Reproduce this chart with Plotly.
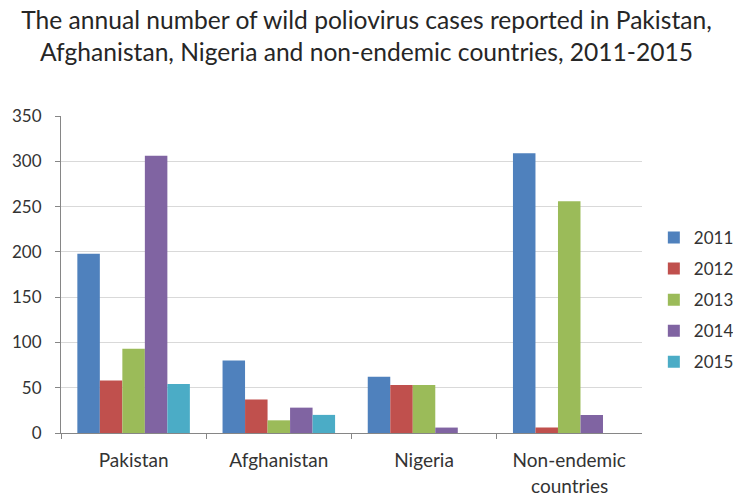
import plotly.graph_objects as go

categories = ["Pakistan", "Afghanistan", "Nigeria", "Non-endemic countries"]
tick_labels = ["Pakistan", "Afghanistan", "Nigeria", "Non-endemic"]
second_line = "countries"
years = ["2011", "2012", "2013", "2014", "2015"]
cases_2011 = [198, 80, 62, 309]
cases_2012 = [58, 37, 53, 6]
cases_2013 = [93, 14, 53, 256]
cases_2014 = [306, 28, 6, 20]
cases_2015 = [54, 20, 0, 0]
colors = ["#4F81BD", "#C0504D", "#9BBB59", "#8064A2", "#4BACC6"]

series = [cases_2011, cases_2012, cases_2013, cases_2014, cases_2015]

fig = go.Figure()
for yr, vals, col in zip(years, series, colors):
    fig.add_trace(go.Bar(x=categories, y=vals, name=yr, legendgroup=yr,
                         marker=dict(color=col, line=dict(width=0))))

font = "Lato, Open Sans, sans-serif"
txt = "#333333"
fig.update_layout(
    width=733, height=499,
    barmode="group", bargap=0.225, bargroupgap=0,
    paper_bgcolor="white", plot_bgcolor="white",
    margin=dict(l=60, r=72, t=116, b=66),
    title=dict(
        text="The annual number of wild poliovirus cases reported in Pakistan,<br>Afghanistan, Nigeria and non-endemic countries, 2011-2015",
        x=0.5, xref="container", xanchor="center", y=0.941, yref="container", yanchor="top",
        font=dict(family=font, size=24.6, color="#262626"),
    ),
    font=dict(family=font, size=17, color=txt),
    legend=dict(x=0.892, xref="container", xanchor="left",
                y=0.399, yref="container", yanchor="middle",
                font=dict(size=17, color=txt), tracegroupgap=6,
                itemwidth=30),
    xaxis=dict(showline=True, linecolor="#868686", linewidth=1,
               ticks="outside", tickson="boundaries", ticklen=5, tickcolor="#868686",
               tickmode="array", tickvals=categories, ticktext=tick_labels,
               ticklabelstandoff=10, tickfont=dict(size=19)),
    yaxis=dict(range=[0, 350], dtick=50, showline=True, linecolor="#868686",
               linewidth=1, showgrid=True, gridcolor="#D9D9D9", gridwidth=1,
               ticks="outside", ticklen=5, tickcolor="#868686",
               ticklabelstandoff=10, tickfont=dict(size=17), zeroline=False),
    annotations=[dict(x=categories[3], y=-(485 - 433) / 317, xref="x", yref="paper",
                      text=second_line, showarrow=False, yanchor="middle",
                      font=dict(family=font, size=19, color=txt))],
)

fig.write_html("out.html")
